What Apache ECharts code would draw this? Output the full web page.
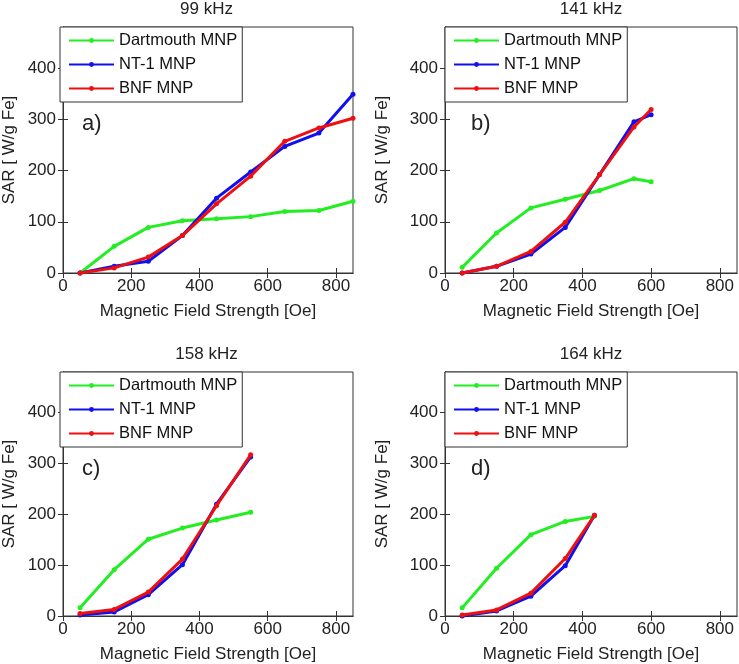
<!DOCTYPE html>
<html><head><meta charset="utf-8">
<script src="https://cdn.jsdelivr.net/npm/echarts@6/dist/echarts.min.js"></script>
<style>html,body{margin:0;padding:0;background:#fff}#c{width:739px;height:664px}</style>
</head><body><div id="c"></div>
<script>
// ---- data ----
const seriesNames = ['Dartmouth MNP', 'NT-1 MNP', 'BNF MNP'];
const panelTitles = ['99 kHz', '141 kHz', '158 kHz', '164 kHz'];
const panelTags = ['a)', 'b)', 'c)', 'd)'];
const yTicks = [0, 100, 200, 300, 400];
const xTicks = [0, 200, 400, 600, 800];

const xA = [50, 150, 250, 350, 450, 550, 650, 750, 850];
const aDart = [0, 52, 89, 102, 106, 110, 120, 122, 140];
const aNT1 = [0, 13, 23, 73, 146, 197, 247, 273, 349];
const aBNF = [0, 10, 31, 73, 135, 189, 257, 283, 302];

const xB = [50, 150, 250, 350, 450, 550, 600];
const bDart = [11, 78, 127, 144, 161, 184, 178];
const bNT1 = [0, 13, 37, 89, 192, 295, 309];
const bBNF = [0, 13, 42, 99, 192, 285, 319];

const xC = [50, 150, 250, 350, 450, 550];
const cDart = [16, 91, 151, 173, 189, 204];
const cNT1 = [2, 8, 42, 101, 220, 313];
const cBNF = [5, 13, 47, 112, 217, 317];

const xD = [50, 150, 250, 350, 435];
const dDart = [16, 94, 160, 186, 196];
const dNT1 = [0, 10, 39, 99, 198];
const dBNF = [2, 12, 45, 113, 198];

const panelX = [xA, xB, xC, xD];
const panelY = [[aDart, aNT1, aBNF], [bDart, bNT1, bBNF], [cDart, cNT1, cBNF], [dDart, dNT1, dBNF]];

// ---- layout/style ----
const colors = ['#22ee22', '#1010ee', '#ee1010'];
const FONT = 'Liberation Sans, Arial, sans-serif';
const FS = 17;
const TXT = '#222';
const grids = [
  {left: 60, top: 27, width: 293, height: 246, nameGap: 45, tagDx: 22},
  {left: 445, top: 27, width: 292, height: 246, nameGap: 54, tagDx: 26},
  {left: 60, top: 372, width: 293, height: 246, nameGap: 45, tagDx: 22},
  {left: 445, top: 372, width: 292, height: 246, nameGap: 54, tagDx: 26}
];

const option = {
  animation: false,
  backgroundColor: '#fff',
  textStyle: {fontFamily: FONT},
  title: [], grid: [], xAxis: [], yAxis: [], legend: [], series: [], graphic: []
};

grids.forEach((g, i) => {
  option.grid.push({left: g.left, top: g.top, width: g.width, height: g.height,
    show: true, borderColor: '#333', borderWidth: 1, backgroundColor: 'transparent'});
  option.title.push({text: panelTitles[i], left: g.left + g.width / 2, top: g.top - 26,
    textAlign: 'center', padding: 0,
    textStyle: {fontFamily: FONT, fontSize: FS, fontWeight: 'normal', color: TXT}});
  const axLine = {show: true, lineStyle: {color: '#333', width: 1}};
  const tick = {show: true, inside: true, length: 5, lineStyle: {color: '#333'}};
  // primary x
  option.xAxis.push({type: 'value', gridIndex: i, min: 0, max: 850, interval: 200,
    axisLine: axLine, axisTick: Object.assign({customValues: xTicks}, tick), splitLine: {show: false},
    axisLabel: {fontFamily: FONT, fontSize: FS, color: TXT, margin: 5, customValues: xTicks},
    name: 'Magnetic Field Strength [Oe]', nameLocation: 'middle', nameGap: 30,
    nameTextStyle: {fontFamily: FONT, fontSize: FS, color: TXT}});
  // primary y
  option.yAxis.push({type: 'value', gridIndex: i, min: 0, max: 480, interval: 100,
    axisLine: axLine, axisTick: Object.assign({customValues: yTicks}, tick), splitLine: {show: false},
    axisLabel: {fontFamily: FONT, fontSize: FS, color: TXT, margin: 7, customValues: yTicks},
    name: 'SAR [ W/g Fe]', nameLocation: 'middle', nameGap: g.nameGap,
    nameTextStyle: {fontFamily: FONT, fontSize: FS, color: TXT}});
  // secondary (mirrored ticks)
  option.xAxis.push({type: 'value', gridIndex: i, position: 'top', min: 0, max: 850, interval: 200,
    axisLine: axLine, axisTick: Object.assign({customValues: xTicks}, tick), axisLabel: {show: false}, splitLine: {show: false}});
  option.yAxis.push({type: 'value', gridIndex: i, position: 'right', min: 0, max: 480, interval: 100,
    axisLine: axLine, axisTick: Object.assign({customValues: yTicks}, tick), axisLabel: {show: false}, splitLine: {show: false}});

  option.legend.push({orient: 'vertical', left: g.left, top: g.top, data: seriesNames,
    backgroundColor: '#fff', borderColor: '#333', borderWidth: 1, borderRadius: 0,
    padding: [5, 5, 5, 8], itemWidth: 45, itemHeight: 6, itemGap: 7,
    textStyle: {fontFamily: FONT, fontSize: 16.5, color: '#111'}});

  seriesNames.forEach((nm, s) => {
    option.series.push({type: 'line', name: nm, xAxisIndex: 2 * i, yAxisIndex: 2 * i,
      data: panelX[i].map((x, k) => [x, panelY[i][s][k]]),
      symbol: 'circle', symbolSize: 5, showSymbol: true,
      lineStyle: {color: colors[s], width: 3}, itemStyle: {color: colors[s]}, z: 2 + s});
  });

  option.graphic.push({type: 'text', left: g.left + g.tagDx, top: g.top + 86, z: 100,
    style: {text: panelTags[i], font: '22px ' + FONT, fill: '#222'}});
});

const chart = echarts.init(document.getElementById('c'), null, {renderer: 'canvas'});
chart.setOption(option);
</script>
</body></html>
